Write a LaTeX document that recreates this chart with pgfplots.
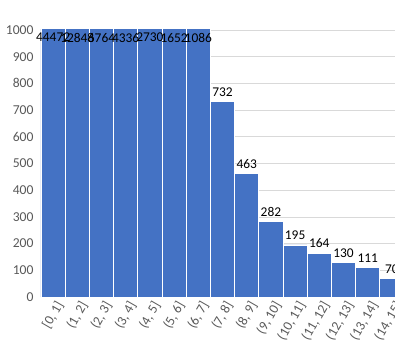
\documentclass[border=0pt]{standalone}
\usepackage{pgfplots}
\pgfplotsset{compat=1.18}
\usepackage{fontspec}
\setmainfont{Carlito}
\definecolor{barblue}{HTML}{4472C4}
\definecolor{axgray}{HTML}{595959}
\definecolor{gridgray}{HTML}{D9D9D9}
\begin{document}
\begin{tikzpicture}
\begin{axis}[
  scale only axis, width=387.2pt, height=267pt,
  xmin=-0.5, xmax=15.5, ymin=0, ymax=1000,
  axis x line*=bottom, axis y line*=left,
  x axis line style={-, draw=gridgray, line width=0.75pt},
  y axis line style={draw=none},
  ytick={0,100,...,1000},
  xtick={0,...,15},
  xticklabels={{[0, 1]},{(1, 2]},{(2, 3]},{(3, 4]},{(4, 5]},{(5, 6]},{(6, 7]},{(7, 8]},{(8, 9]},{(9, 10]},{(10, 11]},{(11, 12]},{(12, 13]},{(13, 14]},{(14, 15]},{(15, 16]}},
  major tick length=0pt,
  ymajorgrids, grid style={draw=gridgray, line width=0.75pt},
  tick label style={font=\fontsize{13.6}{16}\selectfont, text=axgray},
  /pgf/number format/assume math mode=true,
  /pgf/number format/1000 sep={},
  yticklabel style={xshift=-4pt},
  x tick label style={rotate=60, anchor=east, xshift=2pt, yshift=-9pt},
  clip=true,
]
\addplot[ybar, bar width=24.2pt, fill=barblue, draw=white, line width=0.75pt]
  coordinates {(0,44472) (1,12848) (2,6764) (3,4336) (4,2730) (5,1652) (6,1086)
               (7,732) (8,463) (9,282) (10,195) (11,164) (12,130) (13,111) (14,70)};
% labels of bars taller than the axis, set just under its top
\addplot[draw=none, nodes near coords, point meta=explicit symbolic,
  every node near coord/.append style={anchor=north, inner sep=0pt, yshift=-3pt, font=\fontsize{13.4}{16}\selectfont, text=black}]
  coordinates {(0,1000)[44472] (1,1000)[12848] (2,1000)[6764] (3,1000)[4336] (4,1000)[2730] (5,1000)[1652] (6,1000)[1086]};
% labels of the other bars, above them
\addplot[draw=none, nodes near coords, point meta=explicit symbolic,
  every node near coord/.append style={anchor=south, inner sep=0pt, yshift=5pt, font=\fontsize{13.4}{16}\selectfont, text=black}]
  coordinates {(7,732)[732] (8,463)[463] (9,282)[282] (10,195)[195] (11,164)[164] (12,130)[130] (13,111)[111] (14,70)[70]};
\coordinate (o) at (rel axis cs:0,0);
\end{axis}
\pgfresetboundingbox
\useasboundingbox ([shift={(-41pt,-59pt)}]o) rectangle ([shift={(354pt,297pt)}]o);
\end{tikzpicture}
\end{document}
